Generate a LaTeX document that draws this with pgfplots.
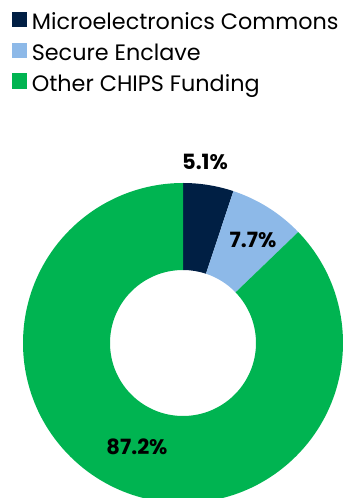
\documentclass[border=0pt]{standalone}
\usepackage{pgfplots}
\pgfplotsset{compat=1.18}
\usepackage{pgfplotstable}
\usepackage{fontspec}
\setmainfont{Poppins}
\definecolor{navy}{HTML}{001F44}
\definecolor{lightblue}{HTML}{8DB9E8}
\definecolor{chipsgreen}{HTML}{00B451}
\pgfplotstableread{
value
5.1
7.7
87.2
}\donutdata
\begin{document}
\begin{tikzpicture}
\useasboundingbox (0,0) rectangle (345pt,498pt);
\pgfplotstablegetelem{0}{value}\of\donutdata \pgfmathsetmacro\va{\pgfplotsretval}
\pgfplotstablegetelem{1}{value}\of\donutdata \pgfmathsetmacro\vb{\pgfplotsretval}
\pgfplotstablegetelem{2}{value}\of\donutdata \pgfmathsetmacro\vc{\pgfplotsretval}
\pgfmathsetmacro\aA{90}
\pgfmathsetmacro\aB{90-3.6*\va}
\pgfmathsetmacro\aC{\aB-3.6*\vb}
\pgfmathsetmacro\aD{\aC-3.6*\vc}
\def\R{160}
\def\r{73}
\begin{axis}[
  at={(0,0)}, anchor=south west,
  x=1pt, y=1pt,
  xmin=-183, xmax=162, ymin=-155, ymax=343,
  hide axis,
  legend style={at={(0.036,0.978)}, anchor=north west, draw=none, fill=none,
    inner sep=0pt, outer sep=0pt, font=\fontsize{22.3}{26}\selectfont,
    row sep=8.5pt, cells={anchor=west}},
  legend image code/.code={\fill[#1] (0pt,-4.5pt) rectangle (14pt,10pt); \path (17pt,0pt);},
]
\addlegendimage{navy}
\addlegendentry{Microelectronics Commons}
\addlegendimage{lightblue}
\addlegendentry{Secure Enclave}
\addlegendimage{chipsgreen}
\addlegendentry{Other CHIPS Funding}
\fill[navy] (axis cs:{\R*cos(\aA)},{\R*sin(\aA)}) arc[start angle=\aA, end angle=\aB, radius=\R pt]
  -- (axis cs:{\r*cos(\aB)},{\r*sin(\aB)}) arc[start angle=\aB, end angle=\aA, radius=\r pt] -- cycle;
\fill[lightblue] (axis cs:{\R*cos(\aB)},{\R*sin(\aB)}) arc[start angle=\aB, end angle=\aC, radius=\R pt]
  -- (axis cs:{\r*cos(\aC)},{\r*sin(\aC)}) arc[start angle=\aC, end angle=\aB, radius=\r pt] -- cycle;
\fill[chipsgreen] (axis cs:{\R*cos(\aC)},{\R*sin(\aC)}) arc[start angle=\aC, end angle=\aD, radius=\R pt]
  -- (axis cs:{\r*cos(\aD)},{\r*sin(\aD)}) arc[start angle=\aD, end angle=\aC, radius=\r pt] -- cycle;
\node[font=\bfseries\fontsize{21}{21}\selectfont] at (axis cs:22,181) {5.1\%};
\node[font=\bfseries\fontsize{21}{21}\selectfont] at (axis cs:70,103) {7.7\%};
\node[font=\bfseries\fontsize{21}{21}\selectfont] at (axis cs:-46,-104) {87.2\%};
\end{axis}
\end{tikzpicture}
\end{document}
